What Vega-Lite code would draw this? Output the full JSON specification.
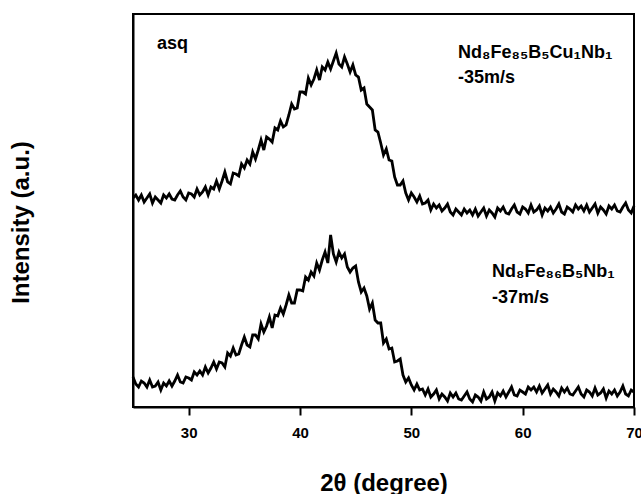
{
"$schema": "https://vega.github.io/schema/vega-lite/v6.json",
"width": 501, "height": 393,
"autosize": {"type": "none"},
"padding": {"left": 133, "top": 14, "right": 7, "bottom": 87},
"background": "white",
"config": {"font": "Liberation Sans", "view": {"stroke": "black", "strokeWidth": 2}},
"layer": [
{
"data": {"values": [
{"s":"u","t":25,"v":209},{"s":"u","t":25.25,"v":212},{"s":"u","t":25.5,"v":207},{"s":"u","t":25.75,"v":212},
{"s":"u","t":26,"v":205},{"s":"u","t":26.25,"v":209},{"s":"u","t":26.5,"v":213},{"s":"u","t":26.75,"v":204},
{"s":"u","t":27,"v":210},{"s":"u","t":27.25,"v":207},{"s":"u","t":27.5,"v":204},{"s":"u","t":27.75,"v":212},
{"s":"u","t":28,"v":209},{"s":"u","t":28.25,"v":213},{"s":"u","t":28.5,"v":208},{"s":"u","t":28.75,"v":207},
{"s":"u","t":29,"v":212},{"s":"u","t":29.25,"v":216},{"s":"u","t":29.5,"v":210},{"s":"u","t":29.75,"v":207},
{"s":"u","t":30,"v":214},{"s":"u","t":30.25,"v":213},{"s":"u","t":30.5,"v":210},{"s":"u","t":30.75,"v":218},
{"s":"u","t":31,"v":212},{"s":"u","t":31.25,"v":215},{"s":"u","t":31.5,"v":220},{"s":"u","t":31.75,"v":212},
{"s":"u","t":32,"v":220},{"s":"u","t":32.25,"v":218},{"s":"u","t":32.5,"v":226},{"s":"u","t":32.75,"v":218},
{"s":"u","t":33,"v":226},{"s":"u","t":33.25,"v":235},{"s":"u","t":33.5,"v":225},{"s":"u","t":33.75,"v":223},
{"s":"u","t":34,"v":234},{"s":"u","t":34.25,"v":233},{"s":"u","t":34.5,"v":231},{"s":"u","t":34.75,"v":243},
{"s":"u","t":35,"v":239},{"s":"u","t":35.25,"v":247},{"s":"u","t":35.5,"v":243},{"s":"u","t":35.75,"v":255},
{"s":"u","t":36,"v":248},{"s":"u","t":36.25,"v":257},{"s":"u","t":36.5,"v":267},{"s":"u","t":36.75,"v":257},
{"s":"u","t":37,"v":270},{"s":"u","t":37.25,"v":268},{"s":"u","t":37.5,"v":265},{"s":"u","t":37.75,"v":279},
{"s":"u","t":38,"v":277},{"s":"u","t":38.25,"v":286},{"s":"u","t":38.5,"v":280},{"s":"u","t":38.75,"v":282},
{"s":"u","t":39,"v":292},{"s":"u","t":39.25,"v":303},{"s":"u","t":39.5,"v":298},{"s":"u","t":39.75,"v":299},
{"s":"u","t":40,"v":315},{"s":"u","t":40.25,"v":315},{"s":"u","t":40.5,"v":313},{"s":"u","t":40.75,"v":329},
{"s":"u","t":41,"v":322},{"s":"u","t":41.25,"v":328},{"s":"u","t":41.5,"v":337},{"s":"u","t":41.75,"v":327},
{"s":"u","t":42,"v":340},{"s":"u","t":42.25,"v":337},{"s":"u","t":42.5,"v":345},{"s":"u","t":42.75,"v":338},
{"s":"u","t":43,"v":346},{"s":"u","t":43.25,"v":354},{"s":"u","t":43.5,"v":343},{"s":"u","t":43.75,"v":340},
{"s":"u","t":44,"v":350},{"s":"u","t":44.25,"v":343},{"s":"u","t":44.5,"v":335},{"s":"u","t":44.75,"v":342},
{"s":"u","t":45,"v":332},{"s":"u","t":45.25,"v":330},{"s":"u","t":45.5,"v":317},{"s":"u","t":45.75,"v":319},
{"s":"u","t":46,"v":303},{"s":"u","t":46.25,"v":300},{"s":"u","t":46.5,"v":297},{"s":"u","t":46.75,"v":277},
{"s":"u","t":47,"v":275},{"s":"u","t":47.25,"v":264},{"s":"u","t":47.5,"v":252},{"s":"u","t":47.75,"v":258},
{"s":"u","t":48,"v":247},{"s":"u","t":48.25,"v":246},{"s":"u","t":48.5,"v":230},{"s":"u","t":48.75,"v":222},
{"s":"u","t":49,"v":222},{"s":"u","t":49.25,"v":226},{"s":"u","t":49.5,"v":214},{"s":"u","t":49.75,"v":207},
{"s":"u","t":50,"v":214},{"s":"u","t":50.25,"v":210},{"s":"u","t":50.5,"v":205},{"s":"u","t":50.75,"v":211},
{"s":"u","t":51,"v":203},{"s":"u","t":51.25,"v":204},{"s":"u","t":51.5,"v":207},{"s":"u","t":51.75,"v":197},
{"s":"u","t":52,"v":203},{"s":"u","t":52.25,"v":199},{"s":"u","t":52.5,"v":202},{"s":"u","t":52.75,"v":196},
{"s":"u","t":53,"v":199},{"s":"u","t":53.25,"v":203},{"s":"u","t":53.5,"v":195},{"s":"u","t":53.75,"v":192},
{"s":"u","t":54,"v":198},{"s":"u","t":54.25,"v":195},{"s":"u","t":54.5,"v":192},{"s":"u","t":54.75,"v":198},
{"s":"u","t":55,"v":194},{"s":"u","t":55.25,"v":197},{"s":"u","t":55.5,"v":192},{"s":"u","t":55.75,"v":198},
{"s":"u","t":56,"v":191},{"s":"u","t":56.25,"v":195},{"s":"u","t":56.5,"v":199},{"s":"u","t":56.75,"v":191},
{"s":"u","t":57,"v":197},{"s":"u","t":57.25,"v":194},{"s":"u","t":57.5,"v":190},{"s":"u","t":57.75,"v":199},
{"s":"u","t":58,"v":196},{"s":"u","t":58.25,"v":200},{"s":"u","t":58.5,"v":194},{"s":"u","t":58.75,"v":193},
{"s":"u","t":59,"v":198},{"s":"u","t":59.25,"v":202},{"s":"u","t":59.5,"v":195},{"s":"u","t":59.75,"v":193},
{"s":"u","t":60,"v":200},{"s":"u","t":60.25,"v":198},{"s":"u","t":60.5,"v":194},{"s":"u","t":60.75,"v":202},
{"s":"u","t":61,"v":195},{"s":"u","t":61.25,"v":197},{"s":"u","t":61.5,"v":201},{"s":"u","t":61.75,"v":192},
{"s":"u","t":62,"v":199},{"s":"u","t":62.25,"v":196},{"s":"u","t":62.5,"v":200},{"s":"u","t":62.75,"v":194},
{"s":"u","t":63,"v":198},{"s":"u","t":63.25,"v":203},{"s":"u","t":63.5,"v":195},{"s":"u","t":63.75,"v":193},
{"s":"u","t":64,"v":200},{"s":"u","t":64.25,"v":198},{"s":"u","t":64.5,"v":195},{"s":"u","t":64.75,"v":202},
{"s":"u","t":65,"v":198},{"s":"u","t":65.25,"v":201},{"s":"u","t":65.5,"v":196},{"s":"u","t":65.75,"v":202},
{"s":"u","t":66,"v":195},{"s":"u","t":66.25,"v":199},{"s":"u","t":66.5,"v":203},{"s":"u","t":66.75,"v":194},
{"s":"u","t":67,"v":200},{"s":"u","t":67.25,"v":197},{"s":"u","t":67.5,"v":193},{"s":"u","t":67.75,"v":201},
{"s":"u","t":68,"v":198},{"s":"u","t":68.25,"v":202},{"s":"u","t":68.5,"v":196},{"s":"u","t":68.75,"v":195},
{"s":"u","t":69,"v":200},{"s":"u","t":69.25,"v":204},{"s":"u","t":69.5,"v":197},{"s":"u","t":69.75,"v":194},
{"s":"u","t":70,"v":201},
{"s":"l","t":25,"v":30},{"s":"l","t":25.25,"v":23},{"s":"l","t":25.5,"v":20},{"s":"l","t":25.75,"v":26},
{"s":"l","t":26,"v":24},{"s":"l","t":26.25,"v":20},{"s":"l","t":26.5,"v":27},{"s":"l","t":26.75,"v":20},
{"s":"l","t":27,"v":21},{"s":"l","t":27.25,"v":25},{"s":"l","t":27.5,"v":17},{"s":"l","t":27.75,"v":24},
{"s":"l","t":28,"v":21},{"s":"l","t":28.25,"v":26},{"s":"l","t":28.5,"v":21},{"s":"l","t":28.75,"v":26},
{"s":"l","t":29,"v":32},{"s":"l","t":29.25,"v":25},{"s":"l","t":29.5,"v":24},{"s":"l","t":29.75,"v":30},
{"s":"l","t":30,"v":29},{"s":"l","t":30.25,"v":27},{"s":"l","t":30.5,"v":35},{"s":"l","t":30.75,"v":32},
{"s":"l","t":31,"v":36},{"s":"l","t":31.25,"v":32},{"s":"l","t":31.5,"v":40},{"s":"l","t":31.75,"v":34},
{"s":"l","t":32,"v":39},{"s":"l","t":32.25,"v":45},{"s":"l","t":32.5,"v":38},{"s":"l","t":32.75,"v":45},
{"s":"l","t":33,"v":44},{"s":"l","t":33.25,"v":40},{"s":"l","t":33.5,"v":54},{"s":"l","t":33.75,"v":51},
{"s":"l","t":34,"v":59},{"s":"l","t":34.25,"v":52},{"s":"l","t":34.5,"v":53},{"s":"l","t":34.75,"v":62},
{"s":"l","t":35,"v":70},{"s":"l","t":35.25,"v":62},{"s":"l","t":35.5,"v":60},{"s":"l","t":35.75,"v":72},
{"s":"l","t":36,"v":72},{"s":"l","t":36.25,"v":68},{"s":"l","t":36.5,"v":83},{"s":"l","t":36.75,"v":75},
{"s":"l","t":37,"v":81},{"s":"l","t":37.25,"v":90},{"s":"l","t":37.5,"v":79},{"s":"l","t":37.75,"v":92},
{"s":"l","t":38,"v":91},{"s":"l","t":38.25,"v":99},{"s":"l","t":38.5,"v":93},{"s":"l","t":38.75,"v":102},
{"s":"l","t":39,"v":112},{"s":"l","t":39.25,"v":104},{"s":"l","t":39.5,"v":104},{"s":"l","t":39.75,"v":117},
{"s":"l","t":40,"v":117},{"s":"l","t":40.25,"v":116},{"s":"l","t":40.5,"v":130},{"s":"l","t":40.75,"v":127},
{"s":"l","t":41,"v":135},{"s":"l","t":41.25,"v":131},{"s":"l","t":41.5,"v":144},{"s":"l","t":41.75,"v":137},
{"s":"l","t":42,"v":147},{"s":"l","t":42.25,"v":155},{"s":"l","t":42.5,"v":144},{"s":"l","t":42.75,"v":172},
{"s":"l","t":43,"v":153},{"s":"l","t":43.25,"v":145},{"s":"l","t":43.5,"v":155},{"s":"l","t":43.75,"v":149},
{"s":"l","t":44,"v":153},{"s":"l","t":44.25,"v":140},{"s":"l","t":44.5,"v":135},{"s":"l","t":44.75,"v":139},
{"s":"l","t":45,"v":141},{"s":"l","t":45.25,"v":125},{"s":"l","t":45.5,"v":115},{"s":"l","t":45.75,"v":119},
{"s":"l","t":46,"v":111},{"s":"l","t":46.25,"v":98},{"s":"l","t":46.5,"v":104},{"s":"l","t":46.75,"v":87},
{"s":"l","t":47,"v":84},{"s":"l","t":47.25,"v":84},{"s":"l","t":47.5,"v":64},{"s":"l","t":47.75,"v":68},
{"s":"l","t":48,"v":58},{"s":"l","t":48.25,"v":59},{"s":"l","t":48.5,"v":45},{"s":"l","t":48.75,"v":46},
{"s":"l","t":49,"v":48},{"s":"l","t":49.25,"v":32},{"s":"l","t":49.5,"v":25},{"s":"l","t":49.75,"v":29},
{"s":"l","t":50,"v":22},{"s":"l","t":50.25,"v":17},{"s":"l","t":50.5,"v":23},{"s":"l","t":50.75,"v":17},
{"s":"l","t":51,"v":18},{"s":"l","t":51.25,"v":12},{"s":"l","t":51.5,"v":18},{"s":"l","t":51.75,"v":10},
{"s":"l","t":52,"v":13},{"s":"l","t":52.25,"v":17},{"s":"l","t":52.5,"v":8},{"s":"l","t":52.75,"v":13},
{"s":"l","t":53,"v":10},{"s":"l","t":53.25,"v":6},{"s":"l","t":53.5,"v":14},{"s":"l","t":53.75,"v":10},
{"s":"l","t":54,"v":14},{"s":"l","t":54.25,"v":8},{"s":"l","t":54.5,"v":7},{"s":"l","t":54.75,"v":11},
{"s":"l","t":55,"v":15},{"s":"l","t":55.25,"v":8},{"s":"l","t":55.5,"v":5},{"s":"l","t":55.75,"v":12},
{"s":"l","t":56,"v":10},{"s":"l","t":56.25,"v":6},{"s":"l","t":56.5,"v":15},{"s":"l","t":56.75,"v":8},
{"s":"l","t":57,"v":10},{"s":"l","t":57.25,"v":15},{"s":"l","t":57.5,"v":6},{"s":"l","t":57.75,"v":14},
{"s":"l","t":58,"v":11},{"s":"l","t":58.25,"v":16},{"s":"l","t":58.5,"v":10},{"s":"l","t":58.75,"v":15},
{"s":"l","t":59,"v":20},{"s":"l","t":59.25,"v":12},{"s":"l","t":59.5,"v":11},{"s":"l","t":59.75,"v":17},
{"s":"l","t":60,"v":15},{"s":"l","t":60.25,"v":13},{"s":"l","t":60.5,"v":20},{"s":"l","t":60.75,"v":17},
{"s":"l","t":61,"v":20},{"s":"l","t":61.25,"v":15},{"s":"l","t":61.5,"v":21},{"s":"l","t":61.75,"v":14},
{"s":"l","t":62,"v":18},{"s":"l","t":62.25,"v":22},{"s":"l","t":62.5,"v":13},{"s":"l","t":62.75,"v":18},
{"s":"l","t":63,"v":15},{"s":"l","t":63.25,"v":11},{"s":"l","t":63.5,"v":19},{"s":"l","t":63.75,"v":15},
{"s":"l","t":64,"v":19},{"s":"l","t":64.25,"v":13},{"s":"l","t":64.5,"v":12},{"s":"l","t":64.75,"v":16},
{"s":"l","t":65,"v":20},{"s":"l","t":65.25,"v":13},{"s":"l","t":65.5,"v":10},{"s":"l","t":65.75,"v":17},
{"s":"l","t":66,"v":15},{"s":"l","t":66.25,"v":11},{"s":"l","t":66.5,"v":19},{"s":"l","t":66.75,"v":12},
{"s":"l","t":67,"v":14},{"s":"l","t":67.25,"v":18},{"s":"l","t":67.5,"v":9},{"s":"l","t":67.75,"v":16},
{"s":"l","t":68,"v":13},{"s":"l","t":68.25,"v":17},{"s":"l","t":68.5,"v":11},{"s":"l","t":68.75,"v":15},
{"s":"l","t":69,"v":21},{"s":"l","t":69.25,"v":13},{"s":"l","t":69.5,"v":11},{"s":"l","t":69.75,"v":17},
{"s":"l","t":70,"v":15}
]},
"mark": {"type": "line", "color": "black", "strokeWidth": 2.8},
"encoding": {
"x": {"field": "t", "type": "quantitative", "scale": {"domain": [25, 70], "nice": false, "zero": false},
 "axis": {"values": [30, 40, 50, 60, 70], "title": "2θ (degree)", "titleFontSize": 24, "titleFontWeight": "bold", "titleColor": "black",
  "titleY": 83, "titleBaseline": "alphabetic", "labelFontSize": 15, "labelFontWeight": "bold", "labelColor": "black",
  "labelPadding": 10, "labelFlush": false, "tickColor": "black", "tickWidth": 2, "tickSize": 8,
  "domainColor": "black", "domainWidth": 2, "grid": false}},
"y": {"field": "v", "type": "quantitative", "scale": {"domain": [0, 393], "nice": false, "zero": false},
 "axis": {"title": "Intensity (a.u.)", "ticks": false, "labels": false, "grid": false, "domainColor": "black", "domainWidth": 2,
  "titleFontSize": 24, "titleFontWeight": "bold", "titleColor": "black", "titleX": -105, "titleY": 208,
  "titleBaseline": "alphabetic", "titleAngle": -90, "titleAlign": "center"}},
"detail": {"field": "s"}
}
},
{
"data": {"values": [
{"t": 27.16, "v": 358, "txt": "asq"},
{"t": 54.2, "v": 349, "txt": "Nd₈Fe₈₅B₅Cu₁Nb₁"},
{"t": 54.2, "v": 324, "txt": "-35m/s"},
{"t": 57.25, "v": 130, "txt": "Nd₈Fe₈₆B₅Nb₁"},
{"t": 57.25, "v": 104, "txt": "-37m/s"}
]},
"mark": {"type": "text", "align": "left", "baseline": "alphabetic", "fontSize": 18, "fontWeight": "bold", "color": "black"},
"encoding": {
"x": {"field": "t", "type": "quantitative"},
"y": {"field": "v", "type": "quantitative"},
"text": {"field": "txt"}
}
}
]
}
